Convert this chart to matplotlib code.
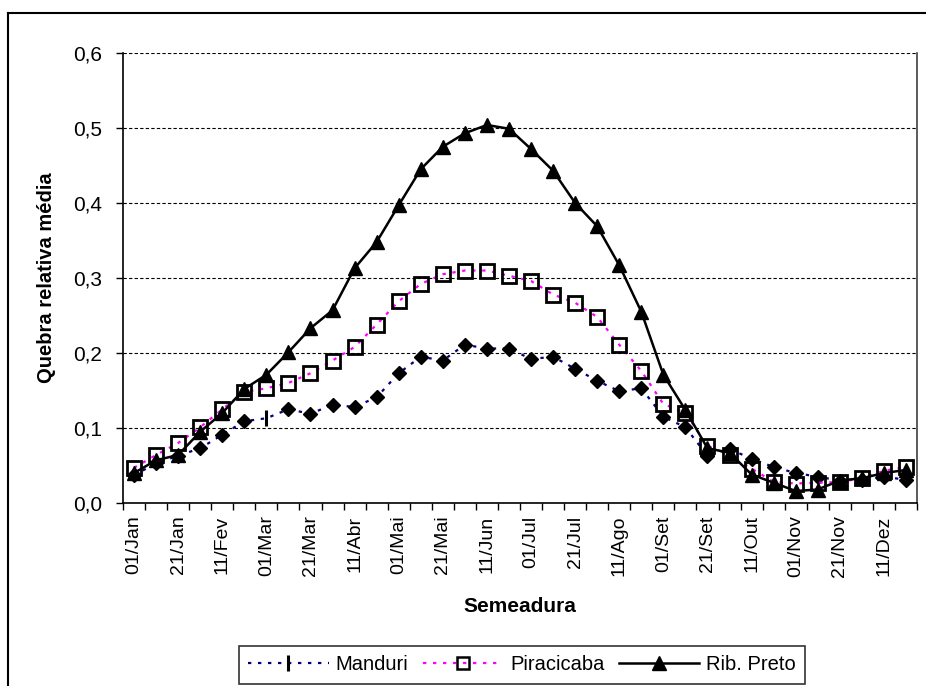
import matplotlib
matplotlib.use('Agg')
import matplotlib.pyplot as plt
from matplotlib.lines import Line2D
from matplotlib.ticker import FuncFormatter
import numpy as np

plt.rcParams['font.family'] = ['Liberation Sans', 'DejaVu Sans']

# datas de semeadura (a cada 10 dias), rotulo so nas pares
datas = ['01/Jan', '11/Jan', '21/Jan', '01/Fev', '11/Fev', '21/Fev',
         '01/Mar', '11/Mar', '21/Mar', '01/Abr', '11/Abr', '21/Abr',
         '01/Mai', '11/Mai', '21/Mai', '01/Jun', '11/Jun', '21/Jun',
         '01/Jul', '11/Jul', '21/Jul', '01/Ago', '11/Ago', '21/Ago',
         '01/Set', '11/Set', '21/Set', '01/Out', '11/Out', '21/Out',
         '01/Nov', '11/Nov', '21/Nov', '01/Dez', '11/Dez', '21/Dez']

manduri = [0.037, 0.053, 0.063, 0.073, 0.091, 0.109, 0.113, 0.125, 0.119, 0.131,
           0.128, 0.141, 0.173, 0.195, 0.190, 0.211, 0.206, 0.206, 0.192, 0.195,
           0.179, 0.163, 0.149, 0.153, 0.115, 0.101, 0.063, 0.072, 0.059, 0.048,
           0.040, 0.035, 0.030, 0.031, 0.035, 0.031]
piracicaba = [0.047, 0.064, 0.080, 0.101, 0.125, 0.148, 0.153, 0.160, 0.173, 0.190,
              0.208, 0.238, 0.269, 0.292, 0.305, 0.310, 0.310, 0.303, 0.296, 0.278,
              0.267, 0.248, 0.211, 0.176, 0.132, 0.120, 0.076, 0.064, 0.046, 0.028,
              0.026, 0.027, 0.028, 0.033, 0.043, 0.048]
rib_preto = [0.040, 0.057, 0.064, 0.095, 0.120, 0.152, 0.171, 0.201, 0.233, 0.257,
             0.313, 0.348, 0.397, 0.445, 0.475, 0.493, 0.504, 0.499, 0.472, 0.443,
             0.400, 0.369, 0.317, 0.255, 0.171, 0.124, 0.073, 0.067, 0.038, 0.027,
             0.016, 0.018, 0.030, 0.033, 0.040, 0.044]

x = np.arange(len(datas))

fig = plt.figure(figsize=(9.26, 6.86), dpi=100)
ax = fig.add_axes([123/926, 1-503/686, (917-123)/926, (503-53)/686])

navy = '#000080'
mag = '#FF00FF'
tracejado = (0, (1.5, 3))

# Manduri: linha tracejada azul, losangos (um ponto com barra)
ax.plot(x, manduri, color=navy, lw=1.6, ls=tracejado, zorder=2)
outros = [i for i in range(len(x)) if i != 6]
ax.plot(x[outros], np.array(manduri)[outros], ls='none', marker='D', ms=7.5,
        color='black', zorder=3)
ax.plot(x[6], manduri[6], ls='none', marker='|', ms=11, mew=2.2, color='black', zorder=3)

ax.plot(x, piracicaba, color=mag, lw=1.6, ls=tracejado, marker='s', ms=10,
        mfc='none', mec='black', mew=2, zorder=4)
ax.plot(x, rib_preto, color='black', lw=1.8, ls='-', marker='^', ms=10.5,
        mfc='black', mec='black', zorder=5)

ax.set_xlim(-0.5, len(x) - 0.5)
ax.set_ylim(0, 0.6)
ax.set_yticks(np.arange(0, 0.61, 0.1))
ax.yaxis.set_major_formatter(FuncFormatter(lambda v, p: ('%.1f' % v).replace('.', ',')))
ax.yaxis.grid(True, color='black', ls=(0, (3, 2)), lw=0.8)
ax.set_axisbelow(True)

ax.set_xticks(np.arange(-0.5, len(x), 1.0))
ax.set_xticklabels([])
ax.set_xticks(x[::2], minor=True)
ax.set_xticklabels(datas[::2], minor=True, rotation=90, fontsize=14)
ax.tick_params(axis='x', which='major', direction='out', length=5, width=1)
ax.tick_params(axis='x', which='minor', length=0, pad=9)
ax.tick_params(axis='y', direction='out', length=5, width=1, labelsize=15, pad=10)

for s in ['left', 'bottom']:
    ax.spines[s].set_linewidth(1.2)
ax.spines['top'].set_visible(False)
ax.spines['right'].set_linewidth(1.2)
ax.spines['right'].set_color('#404040')

ax.set_xlabel('Semeadura', fontsize=15, fontweight='bold', labelpad=14)
ax.set_ylabel('Quebra relativa média', fontsize=14.5, fontweight='bold', labelpad=12)

# moldura externa do grafico
fig.add_artist(Line2D([8/926, 8/926], [0, 1-13/686], transform=fig.transFigure,
                      color='black', lw=1.5))
fig.add_artist(Line2D([8/926, 1], [1-13/686, 1-13/686], transform=fig.transFigure,
                      color='black', lw=1.5))

handles = [
    Line2D([], [], color=navy, lw=1.6, ls=tracejado, marker='|', ms=11, mew=2.2,
           mec='black'),
    Line2D([], [], color=mag, lw=1.6, ls=tracejado, marker='s', ms=9,
           mfc='none', mec='black', mew=1.8),
    Line2D([], [], color='black', lw=1.8, marker='^', ms=10.5),
]
leg = fig.legend(handles, ['Manduri', 'Piracicaba', 'Rib. Preto'], ncol=3,
                 loc='center', bbox_to_anchor=(522/926, 1-665/686), fontsize=14.5,
                 frameon=True, fancybox=False, edgecolor='black', handlelength=4.0,
                 handletextpad=0.35, columnspacing=0.7, borderpad=0.45)
leg.get_frame().set_linewidth(1.2)

fig.savefig('out.png', dpi=100)
